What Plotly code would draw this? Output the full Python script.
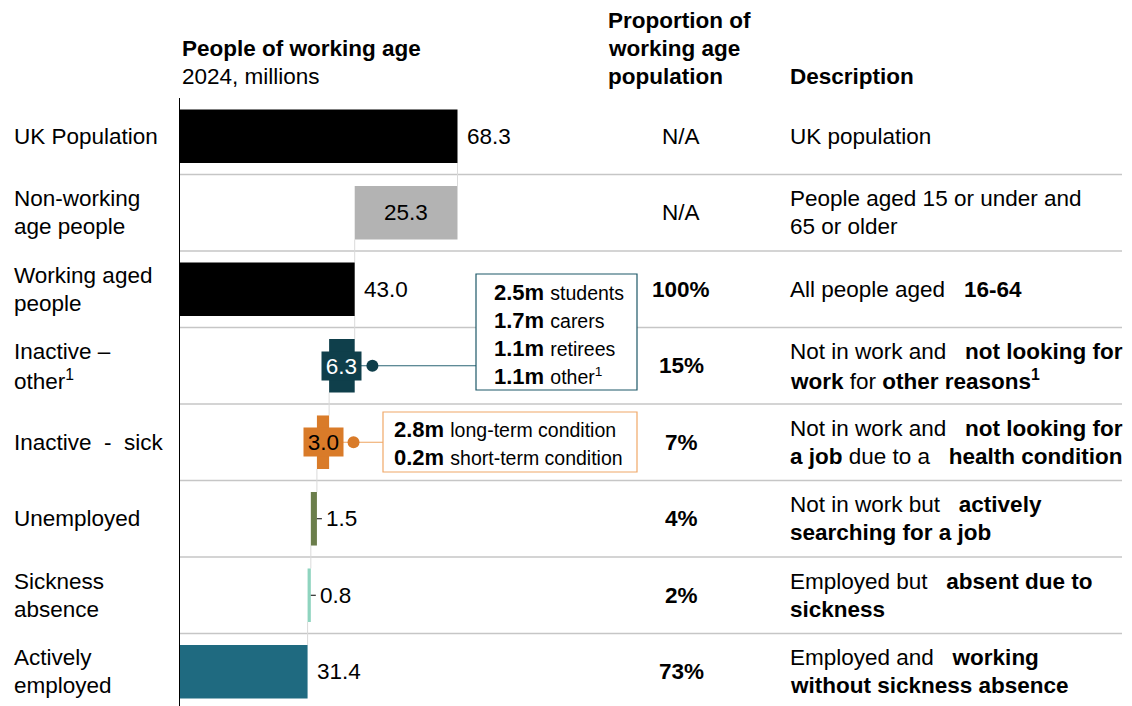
import plotly.graph_objects as go

# waterfall rows, top to bottom (millions, 2024)
labels = ["UK Population", "Non-working<br>age people", "Working aged<br>people",
          "Inactive \u2013<br>other<sup>1</sup>", "Inactive\u00a0 -\u00a0 sick", "Unemployed",
          "Sickness<br>absence", "Actively<br>employed"]
values = [68.3, 25.3, 43.0, 6.3, 3.0, 1.5, 0.8, 31.4]
measure = ["total", "step", "total", "step", "step", "step", "step", "total"]
shares = ["N/A", "N/A", "100%", "15%", "7%", "4%", "2%", "73%"]

GAP = "\u00a0\u00a0 "
descriptions = [
    "UK population",
    "People aged 15 or under and<br>65 or older",
    f"All people aged{GAP}<b>16-64</b>",
    f"Not in work and{GAP}<b>not looking for</b><br><b>work</b> for <b>other reasons<sup>1</sup></b>",
    f"Not in work and{GAP}<b>not looking for</b><br><b>a job</b> due to a{GAP}<b>health condition</b>",
    f"Not in work but{GAP}<b>actively</b><br><b>searching for a job</b>",
    f"Employed but{GAP}<b>absent due to</b><br><b>sickness</b>",
    f"Employed and{GAP}<b>working</b><br><b>without sickness absence</b>",
]

other_vals = ["2.5m", "1.7m", "1.1m", "1.1m"]
other_names = ["students", "carers", "retirees", "other<sup>1</sup>"]
sick_vals = ["2.8m", "0.2m"]
sick_names = ["long-term condition", "short-term condition"]

colors = ["#000000", "#b3b3b3", "#000000", "#0f3f4b", "#d97b29", "#6b7e4b", "#8fd4bf", "#1f6a80"]
label_mode = ["out", "in", "out", "box", "box", "tick", "tick", "out"]
box_font = {3: "white", 4: "black"}
FONT = "Arial, 'Liberation Sans', sans-serif"
FS = 22.5       # main text size
LINE = 28       # line spacing in px

# page geometry (the page body adds an 8px margin, so the figure is drawn 8px in)
W, H = 1124, 698
L, R, T, B = 172, 10, 90, 0
PLOT_W = W - L - R
PLOT_H = H - T - B
X0, Y0 = 180, 98          # plot origin on the page
PX_PER_M = 4.063
ROW_PX = 76.5
BAR_W = 0.7


def xd(px):
    return (px - X0) / PX_PER_M


def yd(py):
    return (py - Y0) / ROW_PX - 0.5


def xp(px):
    return (px - X0) / PLOT_W


def yp(py):
    return (Y0 + PLOT_H - py) / PLOT_H


# running totals for the waterfall
bases, levels, level = [], [], 0.0
for v, m in zip(values, measure):
    if m == "total":
        b = 0.0
        level = v
    else:
        b = round(level - v, 1)
        level = b
    bases.append(b)
    levels.append(level)

rows = list(range(len(values)))

fig = go.Figure(go.Bar(
    y=rows, x=values, base=bases, orientation="h", width=BAR_W,
    marker=dict(color=colors, line=dict(width=0)), hoverinfo="skip",
))

shapes, annotations = [], []


def add_lines(text, x, y, xref="paper", yref="y", xanchor="left", size=FS):
    # one annotation per line so the line spacing matches the original
    parts = text.split("<br>")
    n = len(parts)
    for k, part in enumerate(parts):
        annotations.append(dict(xref=xref, yref=yref, x=x, y=y, text=part, showarrow=False,
                                xanchor=xanchor, yanchor="middle", yshift=((n - 1) / 2 - k) * LINE,
                                font=dict(size=size, color="black")))


# row separators
for i in rows[:-1]:
    shapes.append(dict(type="line", xref="paper", x0=0, x1=1, yref="y", y0=i + 0.5, y1=i + 0.5,
                       line=dict(color="#c6c6c6", width=1.5), layer="below"))
# waterfall connectors
for i in rows[:-1]:
    shapes.append(dict(type="line", xref="x", x0=levels[i], x1=levels[i], yref="y",
                       y0=i + BAR_W / 2, y1=i + 1 - BAR_W / 2,
                       line=dict(color="#dadada", width=1), layer="below"))

# value labels
for i in rows:
    end = bases[i] + values[i]
    mid = bases[i] + values[i] / 2
    txt = f"{values[i]:.1f}"
    mode = label_mode[i]
    if mode in ("out", "tick"):
        annotations.append(dict(x=end, y=i, text=txt, showarrow=False, xanchor="left", xshift=7,
                                font=dict(size=FS, color="black")))
        if mode == "tick":
            shapes.append(dict(type="line", xref="x", xsizemode="pixel", xanchor=end, x0=0, x1=5,
                               yref="y", y0=i, y1=i, line=dict(color="black", width=1)))
    elif mode == "in":
        annotations.append(dict(x=mid, y=i, text=txt, showarrow=False, xanchor="center",
                                font=dict(size=FS, color="black")))
    else:
        annotations.append(dict(x=mid, y=i, text=txt, showarrow=False, xanchor="center",
                                bgcolor=colors[i], width=39, height=28, borderpad=0,
                                font=dict(size=FS, color=box_font[i])))


def callout(i, vals, names, box, text_x, text_y, border, linecol):
    mid = bases[i] + values[i] / 2
    x0, y0, x1, y1 = box
    shapes.append(dict(type="line", xref="x", x0=mid, x1=xd(x0), yref="y", y0=i, y1=i,
                       line=dict(color=linecol, width=1.2), layer="above"))
    shapes.append(dict(type="circle", xref="x", xsizemode="pixel", xanchor=mid, x0=24.5, x1=36.5,
                       yref="y", ysizemode="pixel", yanchor=i, y0=-6, y1=6,
                       fillcolor=colors[i], line=dict(width=0), layer="above"))
    shapes.append(dict(type="rect", xref="x", x0=xd(x0), x1=xd(x1), yref="y", y0=yd(y0), y1=yd(y1),
                       fillcolor="white", line=dict(color=border, width=1.2), layer="above"))
    lines = [f"<b>{v}</b> <span style='font-size:19.5px'>{n}</span>" for v, n in zip(vals, names)]
    add_lines("<br>".join(lines), xd(text_x), yd(text_y), xref="x", size=22)


callout(3, other_vals, other_names, (476, 274, 637, 390), 492, 334.5, "#1d5868", "#2a6474")
callout(4, sick_vals, sick_names, (383, 412, 637, 472), 392, 443, "#f0a868", "#eea460")

# row labels, shares and descriptions
for i in rows:
    add_lines(labels[i], xp(12), i)
    share = shares[i] if shares[i] == "N/A" else f"<b>{shares[i]}</b>"
    add_lines(share, xp(681), i, xanchor="center")
    add_lines(descriptions[i], xp(788), i)

# column headers
add_lines("<b>People of working age</b><br>2024, millions", xp(180), yp(62), yref="paper")
add_lines("<b>Proportion of</b><br><b>working age</b><br><b>population</b>", xp(606), yp(48), yref="paper")
add_lines("<b>Description</b>", xp(788), yp(76), yref="paper")

fig.update_layout(
    width=W, height=H, margin=dict(l=L, r=R, t=T, b=B, pad=0),
    paper_bgcolor="white", plot_bgcolor="white", showlegend=False,
    font=dict(family=FONT, size=FS, color="black"),
    xaxis=dict(range=[0, PLOT_W / PX_PER_M], visible=False, fixedrange=True),
    yaxis=dict(range=[PLOT_H / ROW_PX - 0.5, -0.5], showticklabels=False, showgrid=False,
               zeroline=False, ticks="", showline=True, linecolor="black", linewidth=1, fixedrange=True),
    shapes=shapes, annotations=annotations,
)

fig.write_html("out.html")
